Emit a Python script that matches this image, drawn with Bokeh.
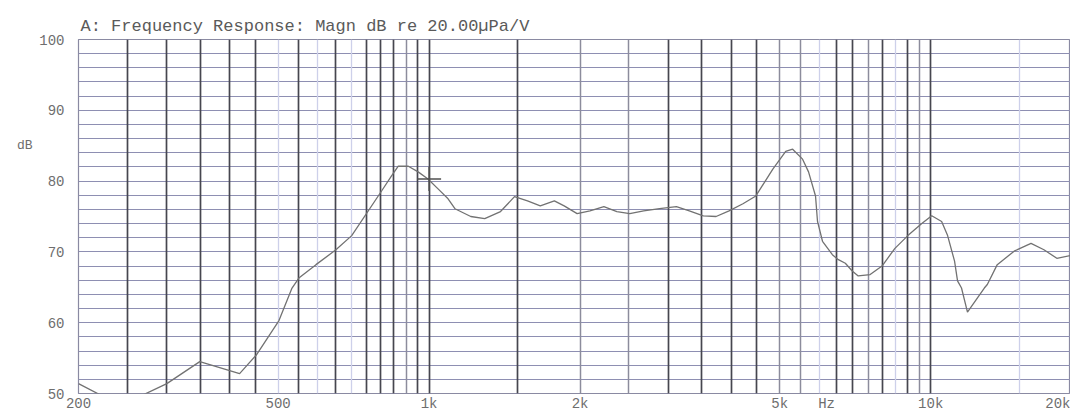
from bokeh.plotting import figure
from bokeh.models import Range1d, FixedTicker, Grid, LinearAxis
from bokeh.embed import file_html
from bokeh.resources import INLINE

# ---- data ----
freq_hz = [200, 228, 248, 269, 300, 349, 419, 452, 502, 533, 550, 595, 652, 701,
           804, 841, 868, 909, 951, 995, 1042, 1091, 1126, 1211, 1291, 1388, 1480,
           1571, 1666, 1777, 1859, 1973, 2093, 2231, 2368, 2512, 2678, 2880, 3112,
           3302, 3521, 3734, 3963, 4224, 4482, 4845, 5140, 5306, 5554, 5708, 5894,
           5948, 6086, 6368, 6546, 6758, 6976, 7170, 7574, 7998, 8486, 9006, 9600,
           10048, 10516, 10808, 11158, 11312, 11520, 11840, 12792, 12970, 13574,
           14668, 15850, 16818, 17844, 19020, 20000]
level_db = [51.4, 49.3, 48.6, 49.8, 51.4, 54.5, 52.8, 55.4, 60.3, 64.9, 66.3, 68.2, 70.3, 72.3,
            78.6, 80.7, 82.1, 82.1, 81.3, 80.3, 78.9, 77.5, 76.1, 75.0, 74.7, 75.7, 77.8,
            77.2, 76.5, 77.2, 76.5, 75.4, 75.8, 76.4, 75.7, 75.4, 75.8, 76.1, 76.4,
            75.8, 75.1, 75.0, 75.8, 76.8, 77.9, 81.7, 84.2, 84.5, 83.1, 81.3, 77.9,
            74.3, 71.5, 69.6, 68.9, 68.4, 67.3, 66.6, 66.8, 68.0, 70.5, 72.3, 74.0,
            75.1, 74.3, 72.3, 68.7, 65.9, 64.9, 61.5, 64.9, 65.4, 68.2,
            70.1, 71.2, 70.3, 69.1, 69.5, 69.6]

cursor_f = [1000]
cursor_db = [80.3]

# x tick labels; the plot is cut at the right edge, the "20k" label sits at that edge
x_ticks = [200, 500, 1000, 2000, 5000, 6200, 10000, 18400]
x_tick_labels = ["200", "500", "1k", "2k", "5k", "Hz", "10k", "20k"]
y_ticks = [50, 60, 70, 80, 90, 100]
y_grid_ticks = list(range(50, 101, 2))
y_unit_tick = [85]
y_unit_label = ["dB"]

# vertical rulings of the paper (dark / medium / light as they appear in the scan)
dark_lines = [250, 300, 350, 400, 450, 550, 650, 750, 800, 850, 950, 1000, 1500,
              3000, 3500, 4000, 4500, 6500, 7000, 8000, 9000, 10000]
medium_lines = [900, 2000, 2500, 5000, 5500, 7500, 9500]
light_lines = [500, 600, 700, 6000, 8500, 15000]

title_text = "A: Frequency Response: Magn dB re 20.00\u00b5Pa/V"
mono = "Liberation Mono"
label_color = "#6e6e6e"

p = figure(width=1070, height=414, x_axis_type="log",
           x_range=Range1d(200, 19000), y_range=Range1d(50, 100),
           output_backend="svg", toolbar_location=None,
           min_border_left=78, min_border_right=0, min_border_top=39, min_border_bottom=16)

p.background_fill_color = "white"
p.border_fill_color = "white"
p.outline_line_color = "#8a8aa2"
p.outline_line_width = 1.2

# title
p.title.text = title_text
p.title.text_font = mono
p.title.text_font_size = "17px"
p.title.text_font_style = "normal"
p.title.text_color = "#5a5a5a"
p.title.align = "left"
p.title.offset = 2
p.title.standoff = 8

# grids
p.xgrid.visible = False
p.ygrid.ticker = FixedTicker(ticks=y_grid_ticks)
p.ygrid.grid_line_color = "#8e8fb2"
p.ygrid.grid_line_width = 1.2

for ticks, color, width in [(light_lines, "#cdd0ea", 1.3),
                            (medium_lines, "#8c8c9c", 1.5),
                            (dark_lines, "#46464f", 1.7)]:
    p.add_layout(Grid(dimension=0, ticker=FixedTicker(ticks=ticks),
                      grid_line_color=color, grid_line_width=width))

# axes
p.xaxis.ticker = FixedTicker(ticks=x_ticks)
p.xaxis.major_label_overrides = {t: s for t, s in zip(x_ticks, x_tick_labels)}
p.yaxis.ticker = FixedTicker(ticks=y_ticks)

unit_axis = LinearAxis(ticker=FixedTicker(ticks=y_unit_tick),
                       major_label_overrides={t: s for t, s in zip(y_unit_tick, y_unit_label)})
p.add_layout(unit_axis, "left")

for ax in (p.xaxis[0], p.yaxis[0], unit_axis):
    ax.axis_line_color = None
    ax.major_tick_line_color = None
    ax.minor_tick_line_color = None
    ax.major_tick_out = 0
    ax.major_tick_in = 0
    ax.minor_tick_out = 0
    ax.minor_tick_in = 0
    ax.major_label_text_font = mono
    ax.major_label_text_font_size = "14px"
    ax.major_label_text_color = label_color
p.xaxis.major_label_standoff = 2
p.yaxis[0].major_label_standoff = 14
unit_axis.major_label_standoff = 4
unit_axis.major_label_text_font_size = "13px"

# response curve
p.line(freq_hz, level_db, line_color="#727272", line_width=1.3)

# measurement cursor
p.scatter(cursor_f, cursor_db, marker="cross", size=24, line_color="#505050", line_width=1.5)

open("out.html", "w").write(file_html(p, INLINE))
